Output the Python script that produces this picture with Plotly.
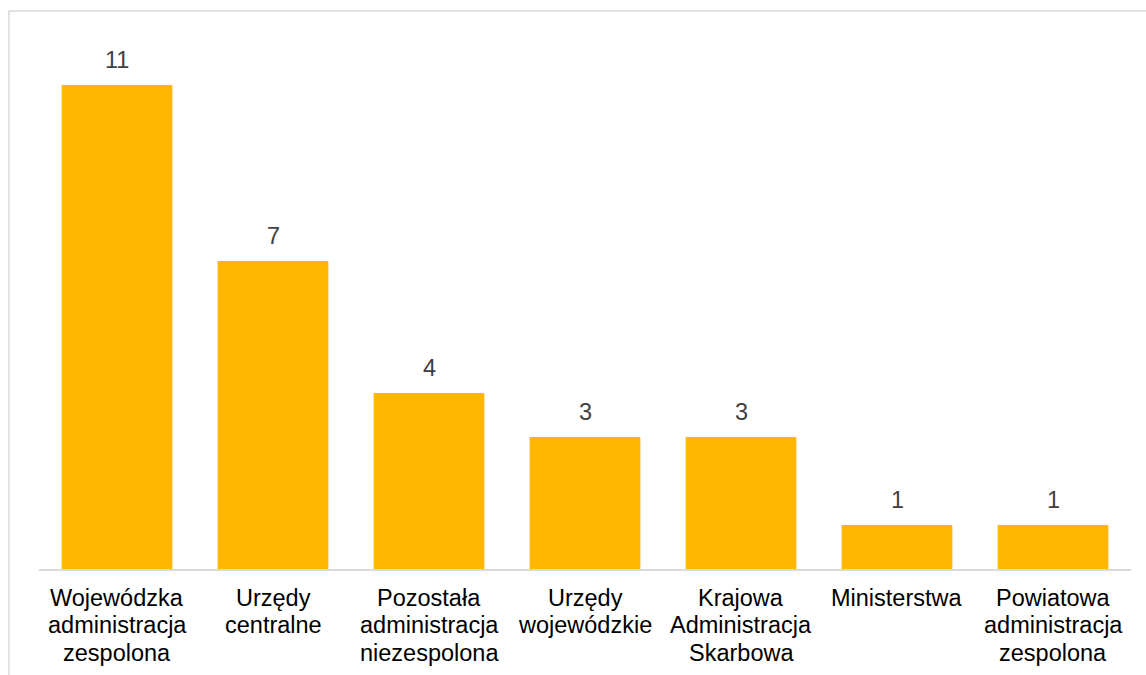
import plotly.graph_objects as go

categories = [
    "Wojewódzka<br>administracja<br>zespolona",
    "Urzędy<br>centralne",
    "Pozostała<br>administracja<br>niezespolona",
    "Urzędy<br>wojewódzkie",
    "Krajowa<br>Administracja<br>Skarbowa",
    "Ministerstwa",
    "Powiatowa<br>administracja<br>zespolona",
]
values = [11, 7, 4, 3, 3, 1, 1]

BAR = "#FFB700"
FONT = "Liberation Sans, Arial, sans-serif"
LABEL_SIZE = 23.5
LINE_STEP = 27.8  # px between category label lines

fig = go.Figure(
    go.Bar(
        x=categories,
        y=values,
        marker=dict(color=BAR, line=dict(width=0)),
        width=0.71,
        hoverinfo="skip",
    )
)

# value labels above the bars
for c, v in zip(categories, values):
    fig.add_annotation(
        x=c, y=v, text=str(v), showarrow=False,
        yanchor="middle", yshift=25,
        font=dict(family=FONT, size=LABEL_SIZE, color="#404040"),
    )

# category labels, one annotation per line for tighter line spacing
for c in categories:
    for i, line in enumerate(c.split("<br>")):
        fig.add_annotation(
            x=c, xref="x", y=0, yref="paper", text=line, showarrow=False,
            yanchor="middle", yshift=-(28.5 + i * LINE_STEP),
            font=dict(family=FONT, size=LABEL_SIZE, color="#000000"),
        )

# chart frame
fig.add_shape(
    type="rect", xref="paper", yref="paper",
    x0=-0.0275, x1=1.03, y0=-0.3, y1=1.0568,
    line=dict(color="#D9D9D9", width=1.5), fillcolor="rgba(0,0,0,0)",
    layer="below",
)

fig.update_layout(
    width=1146, height=675,
    margin=dict(l=39, r=15, t=41, b=106),
    paper_bgcolor="white", plot_bgcolor="white",
    showlegend=False,
    font=dict(family=FONT, size=LABEL_SIZE, color="#000000"),
    xaxis=dict(
        showline=True, linecolor="#D9D9D9", linewidth=1.5,
        ticks="", showgrid=False, zeroline=False, showticklabels=False,
    ),
    yaxis=dict(
        range=[0, 12], visible=False, showgrid=False, zeroline=False,
    ),
)

fig.write_html("out.html")
